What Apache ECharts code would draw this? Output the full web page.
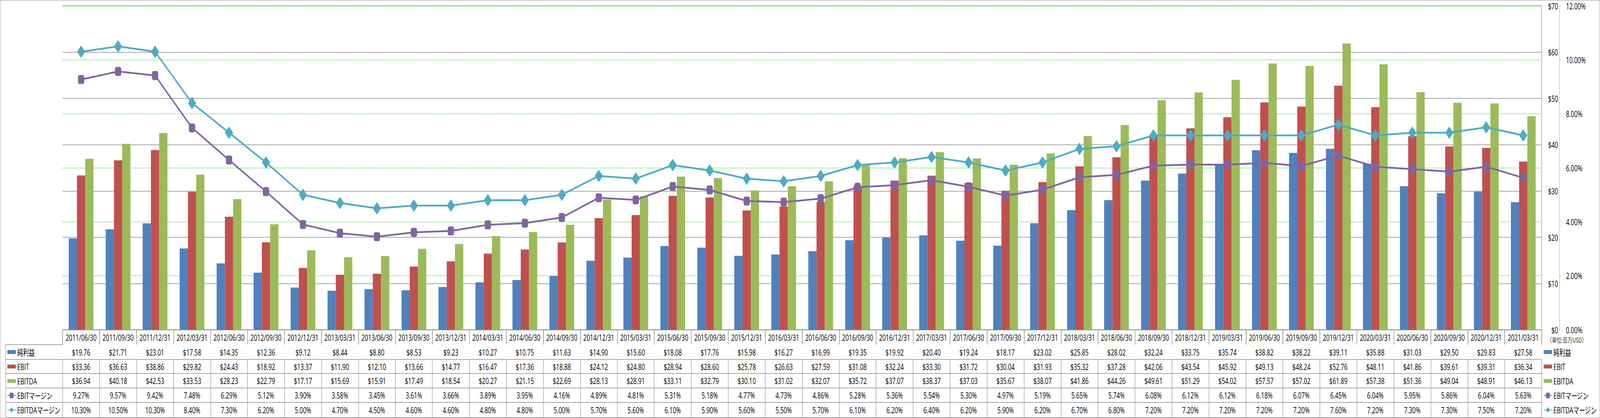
<!DOCTYPE html>
<html>
<head>
<meta charset="utf-8">
<script src="https://cdn.jsdelivr.net/npm/echarts@6/dist/echarts.min.js"></script>
<style>
html,body{margin:0;padding:0;background:#fff;overflow:hidden;}
#wrap{position:absolute;left:0;top:0;width:5877px;height:1071px;transform-origin:0 0;}
#c{width:5877px;height:1071px;}
#b{position:absolute;left:0;top:0;width:5877px;height:1071px;box-sizing:border-box;border:1.5px solid #8c8c8c;pointer-events:none;}
</style>
</head>
<body>
<div id="wrap"><div id="c"></div><div id="b"></div></div>
<script>
const categories = ['2011/06/30','2011/09/30','2011/12/31','2012/03/31','2012/06/30','2012/09/30','2012/12/31','2013/03/31','2013/06/30','2013/09/30','2013/12/31','2014/03/31','2014/06/30','2014/09/30','2014/12/31','2015/03/31','2015/06/30','2015/09/30','2015/12/31','2016/03/31','2016/06/30','2016/09/30','2016/12/31','2017/03/31','2017/06/30','2017/09/30','2017/12/31','2018/03/31','2018/06/30','2018/09/30','2018/12/31','2019/03/31','2019/06/30','2019/09/30','2019/12/31','2020/03/31','2020/06/30','2020/09/30','2020/12/31','2021/03/31'];
const netIncome = [19.76,21.71,23.01,17.58,14.35,12.36,9.12,8.44,8.80,8.53,9.23,10.27,10.75,11.63,14.90,15.60,18.08,17.76,15.98,16.27,16.99,19.35,19.92,20.40,19.24,18.17,23.02,25.85,28.02,32.24,33.75,35.74,38.82,38.22,39.11,35.88,31.03,29.50,29.83,27.58];
const ebit = [33.36,36.63,38.86,29.82,24.43,18.92,13.37,11.90,12.10,13.66,14.77,16.47,17.36,18.88,24.12,24.80,28.94,28.60,25.78,26.63,27.59,31.08,32.24,33.30,31.72,30.04,31.93,35.32,37.28,42.06,43.54,45.92,49.13,48.24,52.76,48.11,41.86,39.61,39.31,36.34];
const ebitda = [36.94,40.18,42.53,33.53,28.23,22.79,17.17,15.69,15.91,17.49,18.54,20.27,21.15,22.69,28.13,28.91,33.11,32.79,30.10,31.02,32.07,35.72,37.07,38.37,37.03,35.67,38.07,41.86,44.26,49.61,51.29,54.02,57.57,57.02,61.89,57.38,51.36,49.04,48.91,46.13];
const ebitMargin = [9.27,9.57,9.42,7.48,6.29,5.12,3.90,3.58,3.45,3.61,3.66,3.89,3.95,4.16,4.89,4.81,5.31,5.18,4.77,4.73,4.86,5.28,5.36,5.54,5.30,4.97,5.19,5.65,5.74,6.08,6.12,6.12,6.18,6.07,6.45,6.04,5.95,5.86,6.04,5.63];
const ebitdaMargin = [10.30,10.50,10.30,8.40,7.30,6.20,5.00,4.70,4.50,4.60,4.60,4.80,4.80,5.00,5.70,5.60,6.10,5.90,5.60,5.50,5.70,6.10,6.20,6.40,6.20,5.90,6.20,6.70,6.80,7.20,7.20,7.20,7.20,7.20,7.60,7.20,7.30,7.30,7.50,7.20];
const seriesNames = ['純利益','EBIT','EBITDA','EBITマージン','EBITDAマージン'];
const dollarTicks = {min:0, max:70, interval:10};
const pctTicks = {min:0, max:12, interval:2};
const unitText = '（単位:百万USD）';

// the design is 5877 px wide; squeeze horizontally if the window is narrower
const DESIGN_W = 5877;
const sx = Math.min(1, window.innerWidth / DESIGN_W);
document.getElementById('wrap').style.transform = 'scale(' + sx + ',1)';

const FONT = '"Open Sans", "Noto Sans CJK JP", sans-serif';
const FS = 21.5;
const LINE = '#8a8a8a';
const GREEN = '#1ee01e';
const colors = ['#4F81BD','#C0504D','#9BBB59','#8064A2','#4BACC6'];

const money = a => a.map(v => '$' + v.toFixed(2));
const pct = a => a.map(v => v.toFixed(2) + '%');

const rowDefs = [
  [0, 38, categories],
  [38, 38, money(netIncome)],
  [76, 36, money(ebit)],
  [112, 37, money(ebitda)],
  [149, 37, pct(ebitMargin)],
  [186, 39, pct(ebitdaMargin)]
];

const xAxes = rowDefs.map((r, i) => ({
  type: 'category',
  data: r[2],
  position: 'bottom',
  offset: r[0],
  boundaryGap: true,
  axisLine: {show: true, lineStyle: {color: LINE, width: 1.5}},
  axisTick: {show: true, interval: 0, length: r[1], lineStyle: {color: LINE, width: 1.5}},
  axisLabel: {show: true, interval: 0, margin: r[1] / 2, verticalAlign: 'middle', color: '#000', fontFamily: FONT, fontSize: FS},
  splitLine: {show: false}
}));

const BARICON = 'path://M0,0H31V10H0Z';
const legendData = [
  {name: seriesNames[0], icon: BARICON},
  {name: seriesNames[1], icon: BARICON},
  {name: seriesNames[2], icon: BARICON},
  {name: seriesNames[3]},
  {name: seriesNames[4]}
];
const legendBase = {
  orient: 'vertical', top: 890, padding: 0, itemWidth: 31, itemHeight: 18, itemGap: 13.1,
  selectedMode: false,
  textStyle: {fontFamily: FONT, fontSize: FS, lineHeight: 24, color: '#000'},
  data: legendData
};

const chart = echarts.init(document.getElementById('c'), null, {renderer: 'svg', width: DESIGN_W, height: 1071});
chart.setOption({
  animation: false,
  backgroundColor: '#fff',
  title: {text: unitText, left: 5683, top: 862, padding: 0, textStyle: {fontFamily: '"Noto Sans CJK JP", sans-serif', fontSize: 17.5, fontWeight: 'normal', color: '#333'}},
  legend: [
    Object.assign({left: 26}, legendBase),
    Object.assign({left: 5669}, legendBase)
  ],
  grid: {left: 230, right: 214, top: 15, bottom: 226, containLabel: false},
  xAxis: xAxes,
  yAxis: [
    {type: 'value', position: 'right', min: dollarTicks.min, max: dollarTicks.max, interval: dollarTicks.interval,
     axisLine: {show: true, lineStyle: {color: LINE, width: 1.5}},
     axisTick: {show: false},
     axisLabel: {formatter: v => '$' + v, align: 'right', margin: 60, color: '#000', fontFamily: FONT, fontSize: FS},
     splitLine: {show: true, lineStyle: {color: LINE, width: 1.5}}},
    {type: 'value', position: 'right', offset: 65, min: pctTicks.min, max: pctTicks.max, interval: pctTicks.interval,
     axisLine: {show: true, lineStyle: {color: GREEN, width: 1.3, type: [4, 3]}},
     axisTick: {show: true, length: 7, lineStyle: {color: GREEN, width: 1.3, type: [4, 3]}},
     axisLabel: {formatter: v => v.toFixed(2) + '%', margin: 24, color: '#000', fontFamily: FONT, fontSize: FS},
     splitLine: {show: true, lineStyle: {color: GREEN, width: 1.3, type: [4, 3]}}}
  ],
  series: [
    {name: seriesNames[0], type: 'bar', data: netIncome, barWidth: 30.3, barGap: '0%', itemStyle: {color: colors[0]}},
    {name: seriesNames[1], type: 'bar', data: ebit, barWidth: 30.3, barGap: '0%', itemStyle: {color: colors[1]}},
    {name: seriesNames[2], type: 'bar', data: ebitda, barWidth: 30.3, barGap: '0%', itemStyle: {color: colors[2]}},
    {name: seriesNames[3], type: 'line', yAxisIndex: 1, data: ebitMargin, symbol: 'roundRect', symbolSize: 23, showAllSymbol: true,
     lineStyle: {color: colors[3], width: 4.5}, itemStyle: {color: colors[3]}, z: 5},
    {name: seriesNames[4], type: 'line', yAxisIndex: 1, data: ebitdaMargin, symbol: 'diamond', symbolSize: [30, 32], showAllSymbol: true,
     lineStyle: {color: colors[4], width: 4.5}, itemStyle: {color: colors[4]}, z: 6}
  ],
  graphic: [
    {type: 'line', shape: {x1: 21, y1: 883, x2: 230, y2: 883}, style: {stroke: LINE, lineWidth: 1.5}, silent: true},
    {type: 'line', shape: {x1: 21, y1: 921, x2: 230, y2: 921}, style: {stroke: LINE, lineWidth: 1.5}, silent: true},
    {type: 'line', shape: {x1: 21, y1: 957, x2: 230, y2: 957}, style: {stroke: LINE, lineWidth: 1.5}, silent: true},
    {type: 'line', shape: {x1: 21, y1: 994, x2: 230, y2: 994}, style: {stroke: LINE, lineWidth: 1.5}, silent: true},
    {type: 'line', shape: {x1: 21, y1: 1031, x2: 230, y2: 1031}, style: {stroke: LINE, lineWidth: 1.5}, silent: true},
    {type: 'line', shape: {x1: 21, y1: 1070, x2: 5663, y2: 1070}, style: {stroke: LINE, lineWidth: 1.5}, silent: true},
    {type: 'line', shape: {x1: 21, y1: 883, x2: 21, y2: 1070}, style: {stroke: LINE, lineWidth: 1.5}, silent: true}
  ]
});
</script>
</body>
</html>
